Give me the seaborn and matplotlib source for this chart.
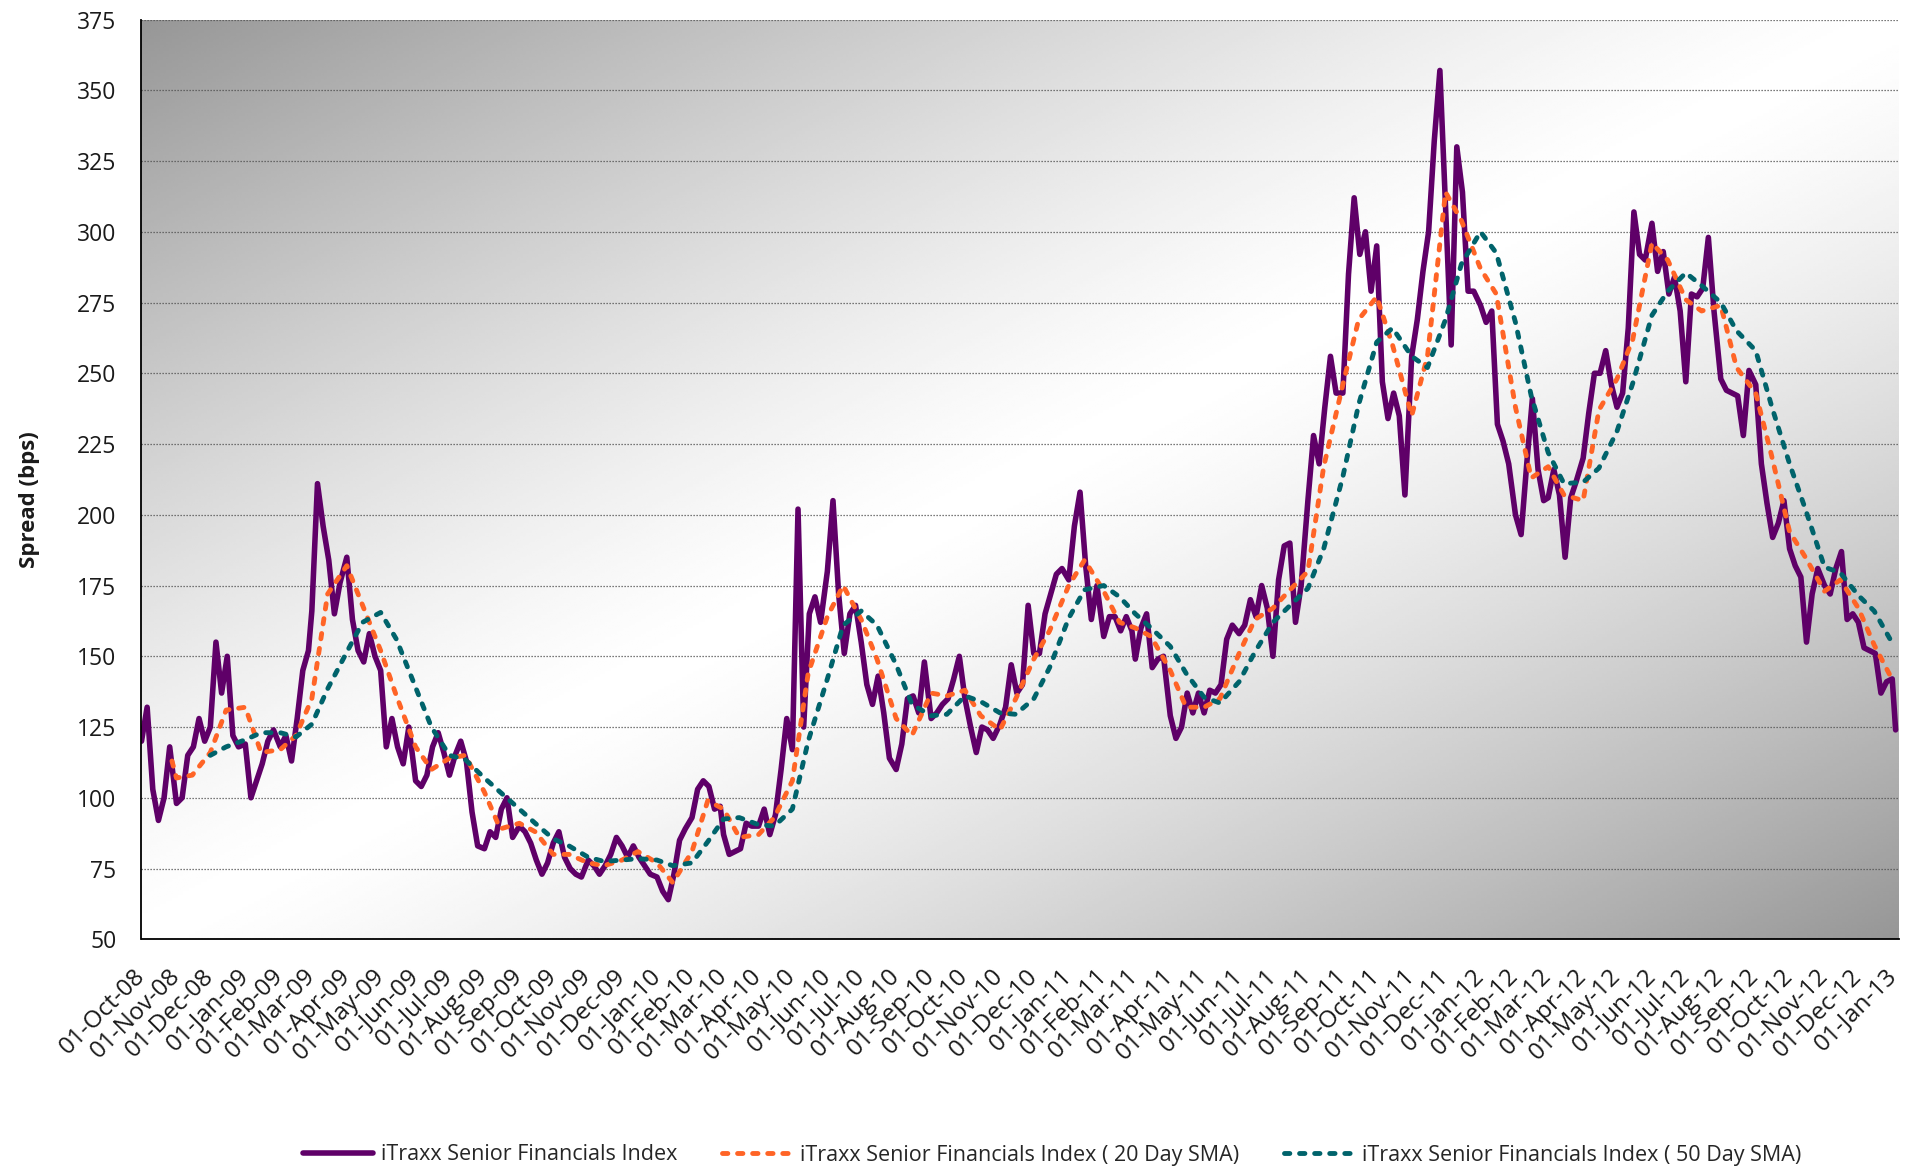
import numpy as np
import pandas as pd
import matplotlib
matplotlib.use("Agg")
import matplotlib.pyplot as plt
import matplotlib.dates as mdates
import seaborn as sns

# Daily index, 6 prints per month (days 1, 6, 11, 16, 21, 26)
index_values = [
    120, 132, 103, 92, 100, 118,    # Oct-08
    98, 100, 115, 118, 128, 120,    # Nov-08
    125, 155, 137, 150, 122, 118,   # Dec-08
    119, 100, 106, 112, 120, 124,   # Jan-09
    118, 122, 113, 128, 145, 152,   # Feb-09
    166, 211, 196, 184, 165, 176,   # Mar-09
    185, 163, 152, 148, 158, 150,   # Apr-09
    145, 118, 128, 118, 112, 125,   # May-09
    106, 104, 108, 118, 123, 116,   # Jun-09
    108, 115, 120, 113, 95, 83,     # Jul-09
    82, 88, 86, 96, 100, 86,        # Aug-09
    90, 88, 84, 78, 73, 77,         # Sep-09
    84, 88, 79, 75, 73, 72,         # Oct-09
    78, 76, 73, 76, 80, 86,         # Nov-09
    83, 79, 83, 79, 76, 73,         # Dec-09
    72, 67, 64, 73, 85, 89,         # Jan-10
    93, 103, 106, 104, 96, 97,      # Feb-10
    87, 80, 81, 82, 91, 90,         # Mar-10
    90, 96, 87, 94, 110, 128,       # Apr-10
    117, 202, 125, 165, 171, 162,   # May-10
    180, 205, 172, 151, 165, 168,   # Jun-10
    155, 140, 133, 143, 130, 114,   # Jul-10
    110, 119, 135, 136, 130, 148,   # Aug-10
    128, 130, 133, 135, 142, 150,   # Sep-10
    135, 125, 116, 125, 124, 121,   # Oct-10
    126, 132, 147, 137, 140, 168,   # Nov-10
    151, 151, 165, 172, 179, 181,   # Dec-10
    177, 196, 208, 182, 163, 175,   # Jan-11
    157, 164, 164, 159, 164, 159,   # Feb-11
    149, 160, 165, 146, 149, 150,   # Mar-11
    129, 121, 125, 137, 130, 137,   # Apr-11
    130, 138, 137, 140, 156, 161,   # May-11
    158, 161, 170, 164, 175, 167,   # Jun-11
    150, 177, 189, 190, 162, 175,   # Jul-11
    205, 228, 218, 238, 256, 243,   # Aug-11
    243, 285, 312, 292, 300, 279,   # Sep-11
    295, 247, 234, 243, 235, 207,   # Oct-11
    256, 269, 286, 300, 332, 357,   # Nov-11
    309, 260, 330, 314, 279, 279,   # Dec-11
    274, 268, 272, 232, 226, 218,   # Jan-12
    200, 193, 218, 241, 216, 205,   # Feb-12
    206, 216, 207, 185, 206, 212,   # Mar-12
    220, 236, 250, 250, 258, 246,   # Apr-12
    238, 243, 266, 307, 292, 290,   # May-12
    303, 286, 293, 278, 284, 272,   # Jun-12
    247, 278, 277, 280, 298, 272,   # Jul-12
    248, 244, 243, 242, 228, 251,   # Aug-12
    246, 218, 204, 192, 197, 205,   # Sep-12
    188, 182, 178, 155, 172, 181,   # Oct-12
    175, 172, 181, 187, 163, 165,   # Nov-12
    162, 153, 152, 151, 137, 141,   # Dec-12
]
index_tail_dates = ["2012-12-31", "2013-01-03"]
index_tail_values = [142, 124]

# 20 day SMA: first print 28-Oct-08, then 1st / 15th of each month
sma20_values = [
    113,
    107, 108, 116, 131,             # Nov-08, Dec-08
    132, 116, 117, 122, 135, 172,   # Jan-09 .. Mar-09
    182, 168, 152, 136, 118, 110,   # Apr-09 .. Jun-09
    114, 115, 102, 89, 91, 88,      # Jul-09 .. Sep-09
    80, 80, 77, 76, 78, 81,         # Oct-09 .. Dec-09
    77, 70, 81, 99, 96, 86,         # Jan-10 .. Mar-10
    87, 93, 106, 144, 164, 175,     # Apr-10 .. Jun-10
    163, 149, 128, 122, 137, 136,   # Jul-10 .. Sep-10
    138, 129, 124, 135, 149, 159,   # Oct-10 .. Dec-10
    175, 184, 173, 162, 160, 157,   # Jan-11 .. Mar-11
    145, 132, 132, 135, 151, 163,   # Apr-11 .. Jun-11
    167, 173, 180, 217, 246, 269,   # Jul-11 .. Sep-11
    277, 260, 235, 256, 314, 304,   # Oct-11 .. Dec-11
    287, 278, 238, 213, 217, 207,   # Jan-12 .. Mar-12
    205, 237, 248, 262, 296, 290,   # Apr-12 .. Jun-12
    276, 272, 274, 252, 243, 221,   # Jul-12 .. Sep-12
    194, 185, 173, 177, 167, 154,   # Oct-12 .. Dec-12
    141,                            # Jan-13
]

# 50 day SMA: 1st / 15th of each month from Dec-08
sma50_values = [
    115, 118,                               # Dec-08
    120.5, 123, 123, 121.5, 126, 138.5,     # Jan-09 .. Mar-09
    151.5, 162, 165.5, 156, 139, 125,       # Apr-09 .. Jun-09
    115, 113.5, 107, 102, 96, 91,           # Jul-09 .. Sep-09
    85.5, 83, 79, 77.5, 78, 78.5,           # Oct-09 .. Dec-09
    78, 76, 77, 84.5, 92.5, 93,             # Jan-10 .. Mar-10
    90.5, 90, 96, 120, 142, 161,            # Apr-10 .. Jun-10
    166, 161, 147, 133, 129, 129.5,         # Jul-10 .. Sep-10
    136, 134, 130, 129.5, 135, 146,         # Oct-10 .. Dec-10
    163.5, 173.5, 175, 171, 165, 160,       # Jan-11 .. Mar-11
    153.5, 144, 135.5, 133.5, 141, 151.5,   # Apr-11 .. Jun-11
    162, 167.5, 174, 188, 213.5, 239,       # Jul-11 .. Sep-11
    261, 266, 256, 252, 269, 288.5,         # Oct-11 .. Dec-11
    300, 292.5, 268, 242, 222, 211,         # Jan-12 .. Mar-12
    211.5, 216.5, 229.5, 246.5, 270.5, 279, # Apr-12 .. Jun-12
    285.5, 281, 275, 265, 258, 238.5,       # Jul-12 .. Sep-12
    218, 202, 181.5, 179.5, 171.5, 166,     # Oct-12 .. Dec-12
    154,                                    # Jan-13
]

series_labels = [
    "iTraxx Senior Financials Index",
    "iTraxx Senior Financials Index ( 20 Day SMA)",
    "iTraxx Senior Financials Index ( 50 Day SMA)",
]
y_ticks = list(range(50, 376, 25))

PURPLE = "#5f0068"
ORANGE = "#ff6426"
TEAL = "#00636b"
SMA_DASH = (0, (1.1, 2.0))


def build_frames():
    month_starts = pd.date_range("2008-10-01", "2012-12-01", freq="MS")
    idx_dates = [m + pd.Timedelta(days=d) for m in month_starts for d in (0, 5, 10, 15, 20, 25)]
    idx_dates += list(pd.to_datetime(index_tail_dates))
    idx = pd.DataFrame({"date": idx_dates, "spread": index_values + index_tail_values})

    sma20_dates = [pd.Timestamp("2008-10-28")] + list(pd.date_range("2008-11-01", "2013-01-01", freq="SMS"))
    sma20 = pd.DataFrame({"date": sma20_dates, "spread": sma20_values})

    sma50_dates = list(pd.date_range("2008-12-01", "2013-01-01", freq="SMS"))
    sma50 = pd.DataFrame({"date": sma50_dates, "spread": sma50_values})
    return idx, sma20, sma50


def draw_background(ax):
    # diagonal grey -> white -> grey fill of the plot area
    h, w = 300, 600
    xx, yy = np.meshgrid(np.linspace(0, 1, w), np.linspace(0, 1, h))
    dist = np.clip(np.abs(xx + yy - 1.0), 0, 1)
    shade = 1.0 - 0.41 * dist ** 1.3
    ax.imshow(shade, cmap="gray", vmin=0, vmax=1, extent=(0, 1, 0, 1),
              transform=ax.transAxes, aspect="auto", origin="upper",
              interpolation="bilinear", zorder=0)


sns.set_style("white")
plt.rcParams["font.family"] = ["Open Sans", "DejaVu Sans"]

idx, sma20, sma50 = build_frames()

fig = plt.figure(figsize=(19.15, 11.70), dpi=100)
ax = fig.add_axes([141.5 / 1915, 1 - 939.3 / 1170, (1899 - 141.5) / 1915, (939.3 - 19.5) / 1170])

sns.lineplot(data=idx, x="date", y="spread", ax=ax, color=PURPLE,
             label=series_labels[0], zorder=3)
sns.lineplot(data=sma20, x="date", y="spread", ax=ax, color=ORANGE,
             label=series_labels[1], zorder=4)
sns.lineplot(data=sma50, x="date", y="spread", ax=ax, color=TEAL,
             label=series_labels[2], zorder=5)

# line styling done on the artists so seaborn defaults don't override it
purple_line, orange_line, teal_line = ax.lines[:3]
purple_line.set_linewidth(4.0)
purple_line.set_solid_joinstyle("round")
for ln in (orange_line, teal_line):
    ln.set_linewidth(3.5)
    ln.set_linestyle(SMA_DASH)
    ln.set_dash_capstyle("round")

draw_background(ax)

ax.set_xlim(pd.Timestamp("2008-10-01"), pd.Timestamp("2013-01-06"))
ax.set_ylim(50, 375)
ax.set_yticks(y_ticks)
ax.xaxis.set_major_locator(mdates.MonthLocator())
ax.xaxis.set_major_formatter(mdates.DateFormatter("%d-%b-%y"))

ax.yaxis.grid(True, linestyle=(0, (1, 1.4)), color="#505050", lw=0.9, zorder=1)
ax.xaxis.grid(False)
ax.set_axisbelow(True)

for side in ["top", "right"]:
    ax.spines[side].set_visible(False)
for side in ["left", "bottom"]:
    ax.spines[side].set_color("black")
    ax.spines[side].set_linewidth(1.3)
    ax.spines[side].set_zorder(6)

ax.tick_params(axis="y", direction="out", length=6, width=1.4, color="#9a9a9a",
               pad=12, labelsize=16.5, labelcolor="#1a1a1a")
ax.tick_params(axis="x", direction="out", length=6, width=1.4, color="#9a9a9a",
               pad=18, labelsize=17.5, labelcolor="#1a1a1a")
plt.setp(ax.get_xticklabels(), rotation=45, ha="right", va="center", rotation_mode="anchor")

ax.set_xlabel("")
ax.set_ylabel("")
fig.text(30 / 1915, 1 - 500 / 1170, "Spread (bps)", rotation=90, ha="center", va="center",
         fontsize=16, fontweight="bold", color="#1a1a1a")

handles, labels = ax.get_legend_handles_labels()
ax.get_legend().remove()
fig.legend(handles, labels, loc="center", bbox_to_anchor=(1052 / 1915, 1 - 1155 / 1170),
           ncol=3, frameon=False, fontsize=15.5, handlelength=3.25, handletextpad=0.35,
           columnspacing=2.1)

fig.savefig("out.png", dpi=100)
plt.close(fig)
